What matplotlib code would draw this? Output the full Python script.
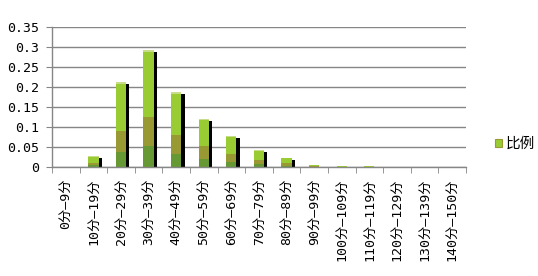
import numpy as np
import matplotlib
matplotlib.use("Agg")
import matplotlib.pyplot as plt
from matplotlib.patches import Patch

# 数据
categories = ["0分—9分", "10分—19分", "20分—29分", "30分—39分", "40分—49分",
              "50分—59分", "60分—69分", "70分—79分", "80分—89分", "90分—99分",
              "100分—109分", "110分—119分", "120分—129分", "130分—139分", "140分—150分"]
ratio = [0.0, 0.027, 0.213, 0.293, 0.187, 0.121, 0.077, 0.042, 0.023, 0.006,
         0.003, 0.003, 0.0, 0.0, 0.0]
yticks = [0, 0.05, 0.1, 0.15, 0.2, 0.25, 0.3, 0.35]
ytick_labels = ["0", "0.05", "0.1", "0.15", "0.2", "0.25", "0.3", "0.35"]
series_name = "比例"

fuente = ["DejaVu Sans Mono", "Noto Sans CJK SC"]
gris = "#868686"

fig = plt.figure(figsize=(5.38, 2.76), dpi=100)
ax = fig.add_axes([0.0967, 0.394, 0.7693, 0.507])

x = np.arange(len(categories))
v = np.array(ratio)
ancho = 0.37

# sombra negra
ax.bar(x + ancho / 2 + 0.06, np.clip(v - 0.005, 0, None) * (v > 0.01), width=0.12,
       color="black", zorder=2)
# capas del degradado
ax.bar(x, v * 0.18, width=ancho, color="#669933", zorder=3)
ax.bar(x, v * 0.25, bottom=v * 0.18, width=ancho, color="#999933", zorder=3)
ax.bar(x, v * 0.57, bottom=v * 0.43, width=ancho, color="#99cc33", zorder=3)
ax.bar(x, v * 0.02, bottom=v * 0.98, width=ancho, color="#c8dc8c", zorder=4)

ax.set_xlim(-0.5, len(categories) - 0.5)
ax.set_ylim(0, 0.35)
ax.set_yticks(yticks)
ax.set_yticklabels(ytick_labels, family=fuente, fontsize=9.5)
ax.set_xticks(x)
ax.set_xticklabels(categories, rotation=90, family=fuente, fontsize=9.5, va="top")
ax.set_xticks(np.arange(-0.5, len(categories)), minor=True)
ax.tick_params(axis="x", which="major", length=0, pad=8)
ax.tick_params(axis="x", which="minor", length=4, color=gris, direction="out")
ax.tick_params(axis="y", length=4, color=gris, direction="out", pad=5)

ax.grid(True, axis="y", color=gris, linewidth=1)
ax.set_axisbelow(True)
for s in ["top", "right"]:
    ax.spines[s].set_visible(False)
for s in ["left", "bottom"]:
    ax.spines[s].set_color(gris)
    ax.spines[s].set_linewidth(1)
ax.spines["bottom"].set_zorder(5)

leg = fig.legend(handles=[Patch(facecolor="#99cc33", edgecolor="#999933", linewidth=0.8,
                                label=series_name)],
                 loc="center left", bbox_to_anchor=(0.92, 0.48), frameon=False,
                 handlelength=0.5, handleheight=0.5, handletextpad=0.25,
                 borderaxespad=0, borderpad=0,
                 prop={"family": fuente, "size": 10.5})

fig.savefig("out.png", dpi=100)
